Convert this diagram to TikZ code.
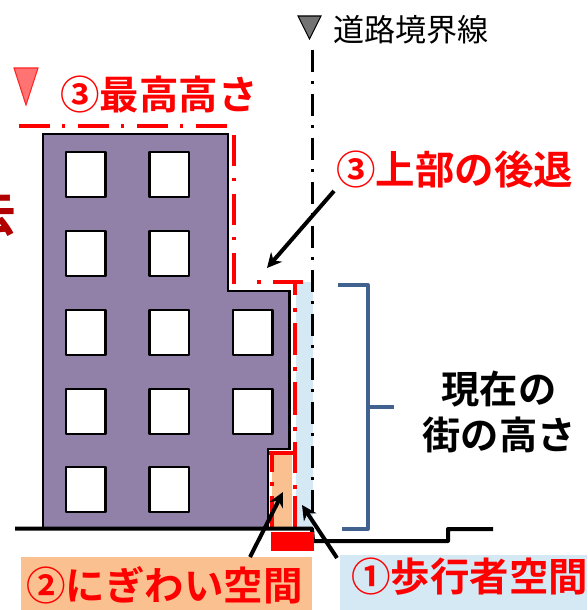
\documentclass[tikz,border=0pt]{standalone}
\usepackage{fontspec}
\newfontfamily\jpb{Noto Sans CJK JP Bold}
\newfontfamily\jpr{Noto Sans CJK JP}
\definecolor{bldg}{HTML}{9181A8}
\definecolor{lblue}{HTML}{D5E9F5}
\definecolor{lorange}{HTML}{FBC08F}
\definecolor{brk}{HTML}{41628F}
\definecolor{darkred}{HTML}{B00000}
\usetikzlibrary{arrows.meta}
\tikzset{
  x=0.75pt,y=-0.75pt,
  win/.style={draw=black,fill=white,line width=1.6pt,line join=round},
  redline/.style={draw=red,line width=3pt,dash pattern=on 23.25pt off 9pt on 2.6pt off 9.4pt},
  redsolid/.style={draw=red,line width=3pt},
  big/.style={font=\jpb\fontsize{29.6}{30}\selectfont,inner sep=0pt,red},
  lead/.style={draw=black,line width=3pt,-{Stealth[length=11pt,width=11pt]}},
}
\begin{document}
\begin{tikzpicture}
\useasboundingbox (0,0) rectangle (587,610);
\clip (0,0) rectangle (587,610);
% label backgrounds
\fill[lorange] (21,557) rectangle (312,610);
\fill[lblue] (340,555) rectangle (587,610);
% spaces
\fill[lblue] (296,282) rectangle (313,528);
\fill[lorange] (272,452) rectangle (292,528);
% building
\draw[fill=bldg,line width=1.6pt,line join=miter] (43,134) -- (228,134) -- (228,291) -- (289.5,291) -- (289.5,449) -- (268,449) -- (268,528) -- (43,528) -- cycle;
\foreach \x/\y in {66/152,149.5/152,66/231,149.5/231,66/310,149.5/310,233/310,66/389,149.5/389,233/389,66/467,149.5/467}
  \draw[win] (\x,\y) rectangle ++(39.5,45);
% road boundary
\coordinate (rtop) at (312.5,50);
\coordinate (rbot) at (312.5,513);
\draw[draw=black,line width=2.5pt,dash pattern=on 16.5pt off 6.8pt on 2pt off 7.7pt] (rtop) -- (rbot);
% red lines
\draw[redline] (19,125.5) -- (228,125.5);
\draw[redline] (233.5,135) -- (233.5,282) -- (245,282);
\draw[redsolid] (257,282) -- (261,282);
\draw[redsolid] (273,282) -- (303,282);
\draw[redsolid] (294.5,282) -- (294.5,295) (294.5,308) -- (294.5,312) (294.5,323) -- (294.5,355) (294.5,367) -- (294.5,371) (294.5,382) -- (294.5,415) (294.5,427) -- (294.5,431) (294.5,442) -- (294.5,473) (294.5,485) -- (294.5,489) (294.5,496) -- (294.5,530);
\draw[redsolid] (269,453) -- (296,453);
\draw[redsolid] (272,453) -- (272,472) (272,482) -- (272,486) (272,496) -- (272,528);
% ground
\draw[black,line width=3pt,line join=round] (15,528.5) -- (312,528.5) -- (313,541) -- (448,541) -- (448,529) -- (493,529);
\fill[red] (271,532) rectangle (314,551);
% bracket
\draw[brk,line width=3pt,line join=round] (338,285) -- (367.5,285) -- (367.5,529) -- (342,529);
\draw[brk,line width=3pt] (367.5,407) -- (394,407);
% triangles
\draw[draw=red!85,fill=red!55,line width=0.8pt] (14,68) -- (38,68) -- (26,105) -- cycle;
\draw[draw=black,fill=black!55,line width=0.8pt] (298,16) -- (321,16) -- (309.5,39) -- cycle;
% texts
\node[anchor=west,inner sep=0pt,font=\jpr\fontsize{23.3}{24}\selectfont] (road) at (333,30) {道路境界線};
\node[big,anchor=west] (maxh) at (60,95) {③最高高さ};
\node[big,anchor=west] (setb) at (336,170) {③上部の後退};
\node[big,anchor=west] (nig) at (26,585) {②にぎわい空間};
\node[big,anchor=west] (ped) at (351,577) {①歩行者空間};
\node[font=\jpb\fontsize{28.7}{34.5}\selectfont,align=center,inner sep=0pt] (cur) at (499,412) {現在の\\街の高さ};
\node[font=\jpb\fontsize{38}{40}\selectfont,darkred,inner sep=0pt] (cut) at (-9,212) {去};
% leaders
\coordinate (t1) at (267,268);
\coordinate (t2) at (283,492);
\coordinate (t3) at (302,505);
\coordinate (s1) at (334,191);
\coordinate (s2) at (250,557);
\coordinate (s3) at (337,558);
\draw[lead] (s1) -- (t1);
\draw[lead] (s2) -- (t2);
\draw[lead] (s3) -- (t3);
\end{tikzpicture}
\end{document}
